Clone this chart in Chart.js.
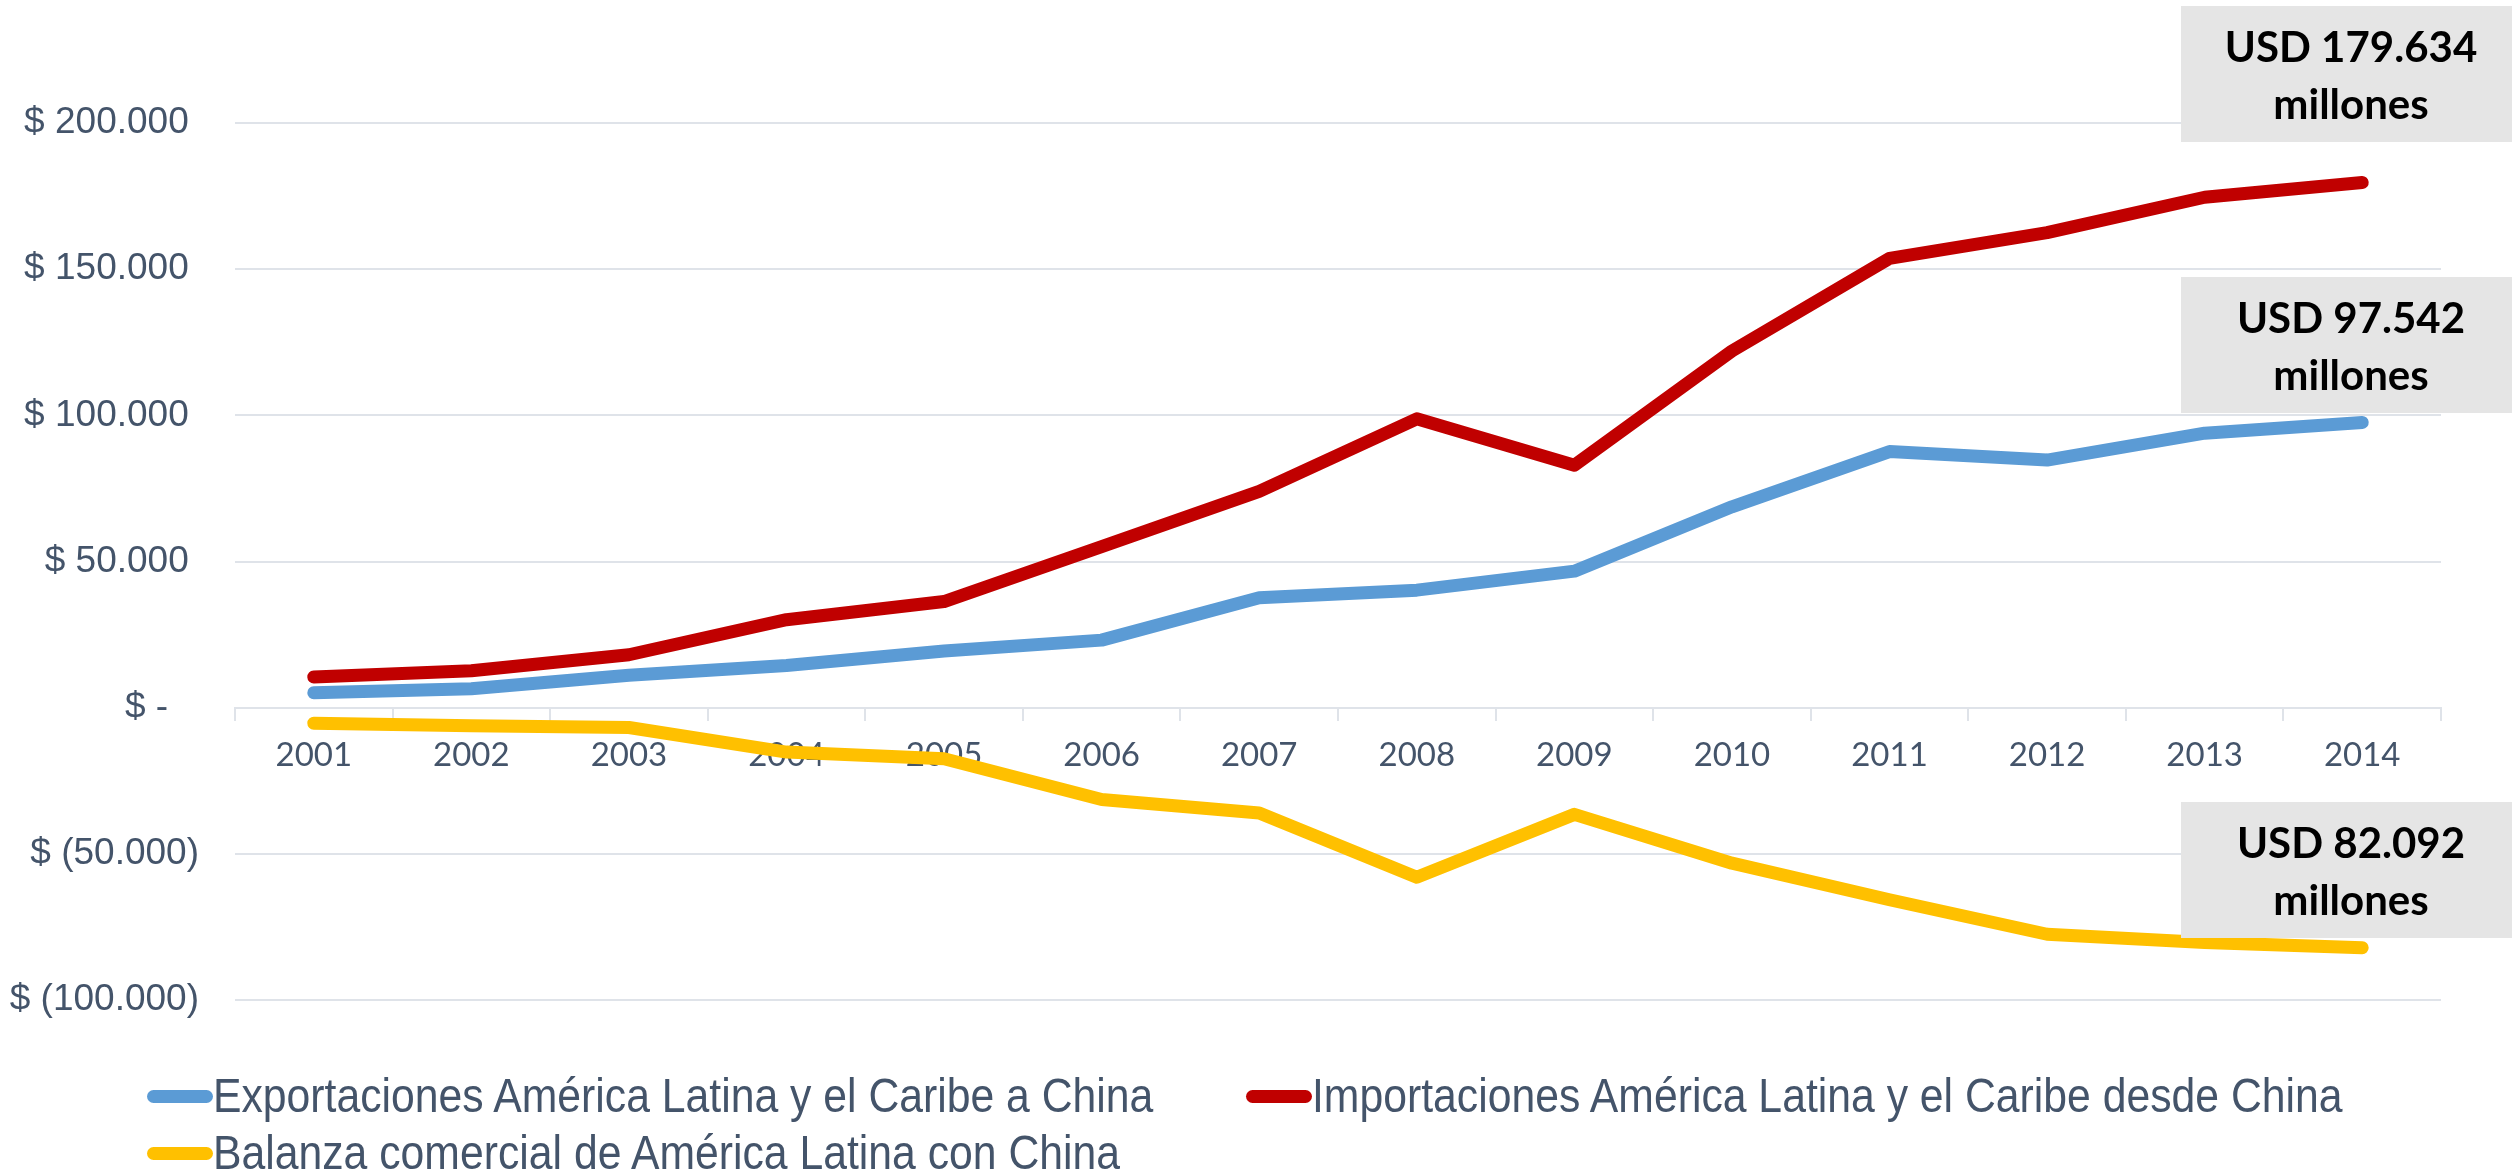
<!DOCTYPE html>
<html>
<head>
<meta charset="utf-8">
<script src="https://cdn.jsdelivr.net/npm/chart.js@4.4.1/dist/chart.umd.min.js"></script>
<style>
  body { margin: 0; background: #fff; }
  #wrap { position: relative; width: 2512px; height: 1175px; overflow: hidden; }
  .legend-item {
    position: absolute; height: 60px; display: flex; align-items: center;
    font-family: 'Liberation Sans', Arial, sans-serif;
    font-size: 48px; line-height: 60px; color: #44546a; white-space: nowrap;
  }
  .legend-item .txt { display: inline-block; transform: scaleX(0.89); transform-origin: left center; }
  .swatch { width: 66px; height: 13px; border-radius: 7px; flex: none; }
</style>
</head>
<body>
<div id="wrap">
  <canvas id="chart" width="2512" height="1175"></canvas>
  <div id="legend"></div>
</div>
<script>
// datos en millones de USD
const years = ['2001', '2002', '2003', '2004', '2005', '2006', '2007',
               '2008', '2009', '2010', '2011', '2012', '2013', '2014'];
const exportsToChina = [5100, 6500, 11100, 14400, 19400, 23100, 37600,
                        40200, 46700, 68700, 87600, 84700, 93900, 97542];
const importsFromChina = [10500, 12600, 18100, 30100, 36300, 55100, 74000,
                          98800, 82900, 122000, 153700, 162500, 174600, 179634];
const tradeBalance = [-5300, -6200, -6800, -15200, -17500, -31400, -36000,
                      -58000, -36500, -53200, -65700, -77500, -80300, -82092];

const seriesNames = [
  'Exportaciones América Latina y el Caribe a China',
  'Importaciones América Latina y el Caribe desde China',
  'Balanza comercial de América Latina con China'
];
const seriesColors = ['#5b9bd5', '#c00000', '#ffc000'];

const calloutLines = [
  ['USD 179.634', 'millones'],
  ['USD 97.542', 'millones'],
  ['USD 82.092', 'millones']
];

const textColor = '#44546a';
const gridColor = '#dfe3e9';

function thousands(v) {
  return Math.abs(v).toString().replace(/\B(?=(\d{3})+(?!\d))/g, '.');
}

// etiquetas grises a la derecha
const calloutPlugin = {
  id: 'callouts',
  afterDraw(chart) {
    const ctx = chart.ctx;
    const boxTops = [6, 277, 802];
    ctx.save();
    calloutLines.forEach((lines, i) => {
      const top = boxTops[i];
      ctx.fillStyle = '#e5e5e5';
      ctx.fillRect(2181, top, 331, 136);
      ctx.fillStyle = '#000';
      ctx.font = 'bold 42px Lato';
      ctx.textAlign = 'center';
      ctx.textBaseline = 'middle';
      ctx.fillText(lines[0], 2351, top + 42);
      ctx.fillText(lines[1], 2351, top + 99);
    });
    ctx.restore();
  }
};

function buildLegend() {
  const spots = [[147, 1066], [1246, 1066], [147, 1123]];
  const legend = document.getElementById('legend');
  seriesNames.forEach((name, i) => {
    const item = document.createElement('div');
    item.className = 'legend-item';
    item.style.left = spots[i][0] + 'px';
    item.style.top = spots[i][1] + 'px';
    const sw = document.createElement('span');
    sw.className = 'swatch';
    sw.style.background = seriesColors[i];
    const label = document.createElement('span');
    label.className = 'txt';
    label.textContent = name;
    item.appendChild(sw);
    item.appendChild(label);
    legend.appendChild(item);
  });
}

function drawChart() {
  const seriesData = [exportsToChina, importsFromChina, tradeBalance];
  new Chart(document.getElementById('chart'), {
    type: 'line',
    data: {
      labels: years,
      datasets: seriesData.map((values, i) => ({
        label: seriesNames[i],
        data: values,
        borderColor: seriesColors[i],
        backgroundColor: seriesColors[i],
        borderWidth: 13,
        borderCapStyle: 'round',
        borderJoinStyle: 'round',
        pointRadius: 0,
        tension: 0,
        fill: false
      }))
    },
    options: {
      responsive: false,
      animation: false,
      layout: { padding: { top: 123, right: 71, bottom: 175, left: 0 } },
      plugins: {
        legend: { display: false },
        tooltip: { enabled: false }
      },
      scales: {
        x: {
          position: { y: 0 },
          offset: true,
          z: 1,
          grid: {
            offset: true,
            drawOnChartArea: false,
            drawTicks: true,
            tickLength: 12,
            color: gridColor,
            lineWidth: 2
          },
          border: { display: true, color: gridColor, width: 2 },
          ticks: {
            color: textColor,
            font: { family: 'Lato', size: 33 },
            padding: 16,
            maxRotation: 0
          }
        },
        y: {
          min: -100000,
          max: 200000,
          afterFit(scale) { scale.width = 235; },
          grid: { color: gridColor, lineWidth: 2, drawTicks: false },
          border: { display: false },
          ticks: {
            stepSize: 50000,
            padding: 36,
            color: textColor,
            font: { family: "'Liberation Sans', Arial, sans-serif", size: 37 },
            callback: v => v === 0 ? '$ -   ' : (v < 0 ? '$ (' + thousands(v) + ')' : '$ ' + thousands(v) + ' ')
          }
        }
      }
    },
    plugins: [calloutPlugin]
  });
}

buildLegend();
Promise.all([
  document.fonts.load('33px Lato'),
  document.fonts.load('bold 42px Lato'),
  document.fonts.load('37px "Liberation Sans"')
]).catch(() => {}).then(drawChart);
</script>
</body>
</html>
